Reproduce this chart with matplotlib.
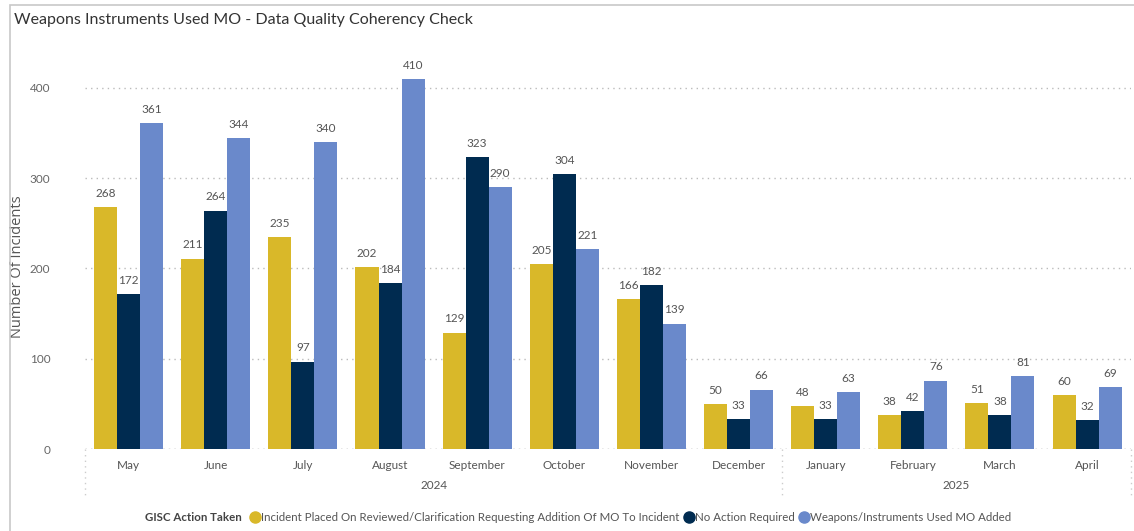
import matplotlib
matplotlib.use("Agg")
import matplotlib.pyplot as plt
from matplotlib.patches import Rectangle
from matplotlib.lines import Line2D
from matplotlib.offsetbox import HPacker

months = ["May", "June", "July", "August", "September", "October", "November",
          "December", "January", "February", "March", "April"]
years = ["2024", "2025"]
year_counts = [8, 4]
series_names = ["Incident Placed On Reviewed/Clarification Requesting Addition Of MO To Incident",
                "No Action Required",
                "Weapons/Instruments Used MO Added"]
incident_placed = [268, 211, 235, 202, 129, 205, 166, 50, 48, 38, 51, 60]
no_action = [172, 264, 97, 184, 323, 304, 182, 33, 33, 42, 38, 32]
mo_added = [361, 344, 340, 410, 290, 221, 139, 66, 63, 76, 81, 69]
colors = ["#D9B829", "#002B50", "#6A89CB"]

plt.rcParams["font.family"] = ["Lato", "DejaVu Sans"]

fig = plt.figure(figsize=(11.34, 5.31), dpi=100)
fig.patch.set_facecolor("white")
fig.add_artist(Rectangle((0.009, -0.01), 1.0, 1.0, transform=fig.transFigure,
                         fill=False, edgecolor="#C8C8C8", linewidth=1.2))
ax = fig.add_axes([0.075, 0.154, 0.922, 0.766])

w = 0.264
x = list(range(len(months)))
data = [incident_placed, no_action, mo_added]
for k, (vals, c) in enumerate(zip(data, colors)):
    pos = [i + (k - 1) * w for i in x]
    ax.bar(pos, vals, width=w, color=c, zorder=3)
    for p, v in zip(pos, vals):
        ax.text(p, v + 9, str(v), ha="center", va="bottom", fontsize=8.5, color="#555555")

ax.set_xlim(-0.5, 11.5)
ax.set_ylim(0, 450)
ax.set_yticks([0, 100, 200, 300, 400])
ax.tick_params(axis="y", length=0, labelsize=8.5, labelcolor="#666666", pad=25)
ax.tick_params(axis="x", length=0, labelsize=8.5, labelcolor="#555555", pad=8)
ax.set_xticks(x)
ax.set_xticklabels(months)
ax.grid(axis="y", linestyle=(0, (1, 3)), color="#BBBBBB", linewidth=1, zorder=0)
for s in ax.spines.values():
    s.set_visible(False)
ax.axhline(0, linestyle=(0, (1, 3)), color="#BBBBBB", linewidth=1, zorder=0)
ax.set_ylabel("Number Of Incidents", fontsize=10.5, color="#555555",
              family=["Open Sans", "DejaVu Sans"])
ax.yaxis.set_label_coords(-0.057, 0.45)

# year axis
trans = ax.get_xaxis_transform()
start = -0.5
bounds = [start]
for yr, n in zip(years, year_counts):
    end = start + n
    ax.text((start + end) / 2, -0.075, yr, transform=trans, ha="center", va="top",
            fontsize=8.5, color="#555555")
    start = end
    bounds.append(end)
for b in bounds:
    ax.add_line(Line2D([b, b], [0, -0.12], transform=trans, clip_on=False,
                       linestyle=(0, (1, 3)), color="#CCCCCC", linewidth=1))

fig.text(0.012, 0.962, "Weapons Instruments Used MO - Data Quality Coherency Check",
         fontsize=11.5, color="#333333", ha="left", va="center")

# legend
handles = [Line2D([], [], marker="o", linestyle="", markersize=8, color=c) for c in colors]
leg = fig.legend(handles, series_names, loc="center", bbox_to_anchor=(0.51, 0.026),
                 ncol=3, frameon=False, fontsize=8.3, handletextpad=0.15, columnspacing=0.4,
                 title="GISC Action Taken", handlelength=0.8)
leg.get_title().set_fontweight("bold")
leg.get_title().set_fontsize(8.3)
leg.get_title().set_color("#444444")
title_box = leg._legend_title_box
handle_box = leg._legend_handle_box
leg._legend_box._children = [HPacker(pad=0, sep=6, children=[title_box, handle_box], align="center")]
for t in leg.get_texts():
    t.set_color("#555555")

fig.savefig("out.png", dpi=100, facecolor="white")
